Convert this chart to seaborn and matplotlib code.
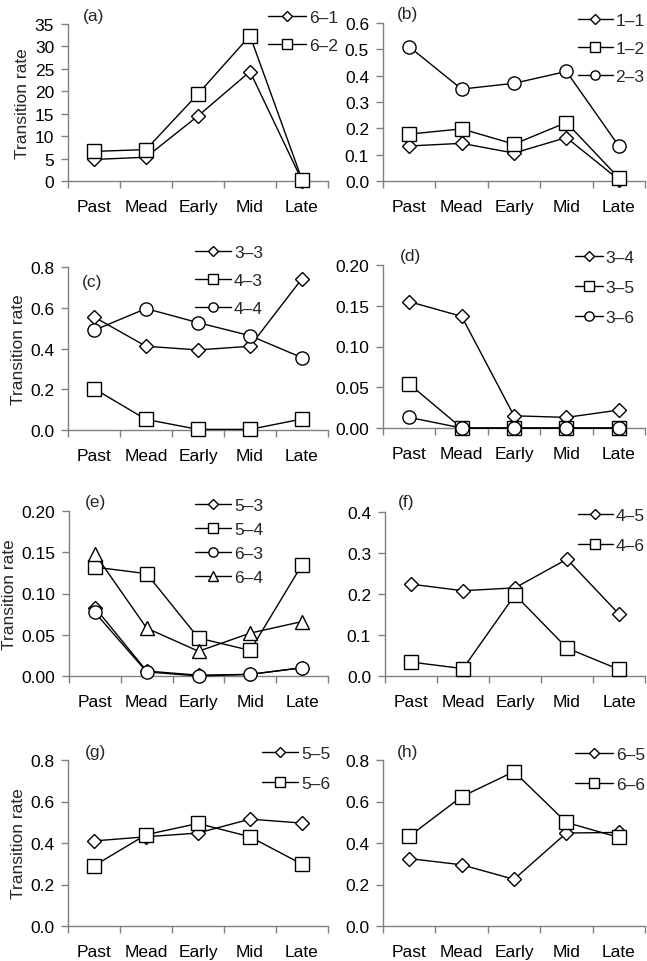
import numpy as np
import pandas as pd
import seaborn as sns
import matplotlib
matplotlib.use("Agg")
import matplotlib.pyplot as plt
from matplotlib.ticker import FormatStrFormatter, FixedLocator

stages = ['Past', 'Mead', 'Early', 'Mid', 'Late']

# (a)
a_61 = [4.8, 5.3, 14.5, 24.4, 0.1]
a_62 = [6.6, 7.0, 19.4, 32.4, 0.3]
# (b)
b_11 = [0.133, 0.143, 0.106, 0.165, 0.005]
b_12 = [0.178, 0.198, 0.140, 0.222, 0.012]
b_23 = [0.510, 0.349, 0.371, 0.416, 0.133]
# (c)
c_33 = [0.555, 0.411, 0.393, 0.411, 0.743]
c_43 = [0.203, 0.052, 0.003, 0.003, 0.054]
c_44 = [0.489, 0.596, 0.527, 0.463, 0.355]
# (d)
d_34 = [0.155, 0.137, 0.015, 0.013, 0.022]
d_35 = [0.054, 0.0, 0.0, 0.0, 0.0]
d_36 = [0.013, 0.0, 0.0, 0.0, 0.0]
# (e)
e_53 = [0.083, 0.006, 0.001, 0.002, 0.010]
e_54 = [0.132, 0.124, 0.046, 0.031, 0.135]
e_63 = [0.077, 0.005, 0.000, 0.002, 0.010]
e_64 = [0.148, 0.058, 0.030, 0.052, 0.066]
# (f)
f_45 = [0.224, 0.208, 0.215, 0.285, 0.151]
f_46 = [0.034, 0.018, 0.198, 0.068, 0.016]
# (g)
g_55 = [0.410, 0.430, 0.448, 0.515, 0.496]
g_56 = [0.290, 0.440, 0.494, 0.430, 0.298]
# (h)
h_65 = [0.325, 0.295, 0.225, 0.448, 0.451]
h_66 = [0.432, 0.623, 0.744, 0.499, 0.427]

W, H = 647, 962
FS = 12.5

sns.set_theme(style="ticks")
plt.rcParams['font.family'] = ['Liberation Sans', 'DejaVu Sans']

fig = plt.figure(figsize=(W / 100, H / 100), dpi=100)

# marker size for each shape
mk = {'D': 7.0, 's': 9.5, 'o': 9.5, '^': 9.5}

# panel: label, axes box in px (left, top, right, bottom), ymax, ystep, fmt,
# series, legend (x px, first row y px, handle length, spacing), label pos
panels = [
    ('(a)', (68, 25, 328, 182), 35, 5, '%d',
     [('6–1', a_61, 'D'), ('6–2', a_62, 's')],
     (268, 17, 2.2, 0.75), (83, 17)),
    ('(b)', (383, 24, 645, 182), 0.6, 0.1, '%.1f',
     [('1–1', b_11, 'D'), ('1–2', b_12, 's'), ('2–3', b_23, 'o')],
     (578, 20, 2.0, 0.75), (397, 15)),
    ('(c)', (68, 268, 328, 431), 0.8, 0.2, '%.1f',
     [('3–3', c_33, 'D'), ('4–3', c_43, 's'), ('4–4', c_44, 'o')],
     (195, 252, 2.1, 0.75), (82, 283)),
    ('(d)', (383, 266, 645, 429), 0.20, 0.05, '%.2f',
     [('3–4', d_34, 'D'), ('3–5', d_35, 's'), ('3–6', d_36, 'o')],
     (575, 257, 1.6, 0.85), (400, 257)),
    ('(e)', (69, 512, 328, 677), 0.20, 0.05, '%.2f',
     [('5–3', e_53, 'D'), ('5–4', e_54, 's'), ('6–3', e_63, 'o'), ('6–4', e_64, '^')],
     (195, 505, 2.1, 0.5), (85, 503)),
    ('(f)', (385, 513, 645, 677), 0.4, 0.1, '%.1f',
     [('4–5', f_45, 'D'), ('4–6', f_46, 's')],
     (578, 515, 2.0, 0.85), (398, 503)),
    ('(g)', (68, 761, 328, 927), 0.8, 0.2, '%.1f',
     [('5–5', g_55, 'D'), ('5–6', g_56, 's')],
     (262, 753, 2.1, 0.85), (85, 752)),
    ('(h)', (383, 761, 645, 927), 0.8, 0.2, '%.1f',
     [('6–5', h_65, 'D'), ('6–6', h_66, 's')],
     (575, 754, 2.2, 0.85), (397, 752)),
]

for i, (lab, box, ymax, ystep, fmt, series, leg, lpos) in enumerate(panels):
    l, t, r, b = box
    ax = fig.add_axes([l / W, 1 - b / H, (r - l) / W, (b - t) / H])
    for name, vals, m in series:
        sns.lineplot(x=stages, y=vals, ax=ax, sort=False, errorbar=None,
                     color='black', linewidth=1.0, marker=m, markersize=mk[m],
                     markerfacecolor='white', markeredgecolor='black',
                     markeredgewidth=1.0, label=name, clip_on=False, zorder=3)
    ax.set_xlim(-0.5, 4.5)
    ax.set_ylim(0, ymax)
    ax.set_yticks(np.arange(0, ymax + ystep / 2, ystep))
    ax.yaxis.set_major_formatter(FormatStrFormatter(fmt))
    ax.set_xticks(range(5))
    ax.set_xticklabels(stages)
    ax.xaxis.set_minor_locator(FixedLocator(np.arange(-0.5, 5, 1.0)))
    ax.tick_params(axis='x', which='major', length=0, pad=13, labelsize=FS, colors='black')
    ax.tick_params(axis='x', which='minor', length=5, width=1, color='#808080', direction='out')
    ax.tick_params(axis='y', length=5, width=1, color='#808080', direction='out',
                   pad=5, labelsize=FS, labelcolor='black')
    ax.set_xlabel('')
    if i % 2 == 0:
        ax.set_ylabel('Transition rate', fontsize=FS, labelpad=3)
    else:
        ax.set_ylabel('')
    for s in ['top', 'right']:
        ax.spines[s].set_visible(False)
    for s in ['left', 'bottom']:
        ax.spines[s].set_color('#808080')
        ax.spines[s].set_linewidth(1)
    ax.set_facecolor('white')

    lx, ly, hl, sp = leg
    ax.legend(loc='upper left', bbox_to_anchor=(lx / W, 1 - (ly - 6) / H),
              bbox_transform=fig.transFigure, frameon=False, fontsize=FS,
              handlelength=hl, handletextpad=0.15, borderpad=0, borderaxespad=0,
              labelspacing=sp, markerscale=0.7)
    fig.text(lpos[0] / W, 1 - lpos[1] / H, lab, fontsize=FS, va='center', ha='left')

fig.savefig('out.png', dpi=100, facecolor='white')
